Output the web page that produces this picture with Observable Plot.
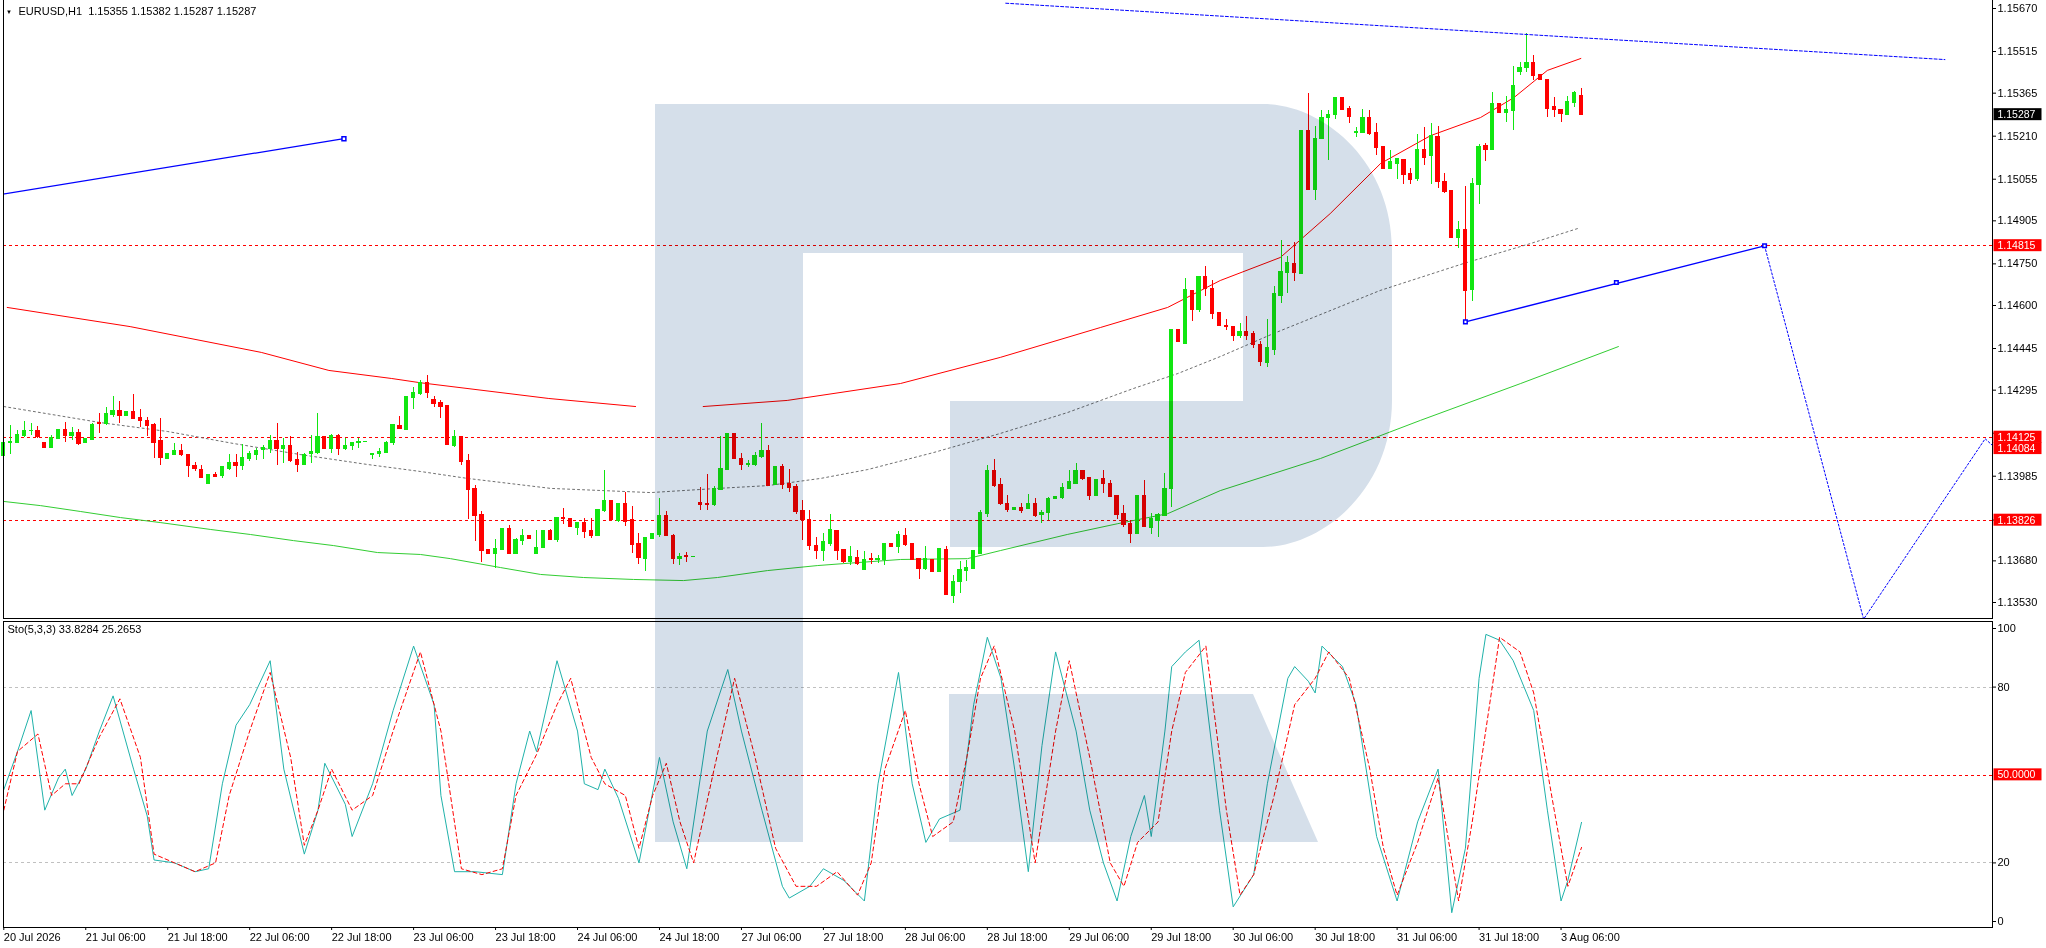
<!DOCTYPE html>
<html><head><meta charset="utf-8">
<script src="https://cdn.jsdelivr.net/npm/d3@7"></script>
<script src="https://cdn.jsdelivr.net/npm/@observablehq/plot@0.6"></script>
<style>
html,body{margin:0;padding:0;background:#fff;}
#wrap{position:relative;width:2046px;height:948px;overflow:hidden;background:#fff;}
#wrap > svg{position:absolute;left:0;}
</style></head><body><div id="wrap"></div>
<script>
// ---------- DATA ----------
const symbol = "EURUSD,H1";
const openP = [
1.14060,1.14108,1.14108,1.14132,1.14148,1.14150,1.14107,1.14090,1.14122,1.14152,
1.14130,1.14142,1.14108,1.14118,1.14178,1.14174,1.14208,1.14222,1.14202,1.14217,
1.14198,1.14186,1.14172,1.14112,1.14050,1.14065,1.14078,1.14064,1.14024,1.14010,
1.13957,1.13992,1.13986,1.14014,1.14035,1.14025,1.14050,1.14064,1.14080,1.14086,
1.14114,1.14086,1.14095,1.14044,1.14028,1.14066,1.14072,1.14128,1.14086,1.14131,
1.14086,1.14094,1.14107,1.14110,1.14065,1.14066,1.14072,1.14108,1.14168,1.14154,
1.14270,1.14282,1.14322,1.14262,1.14252,1.14240,1.14096,1.14128,1.14042,1.13942,
1.13848,1.13722,1.13707,1.13722,1.13797,1.13707,1.13754,1.13772,1.13707,1.13729,
1.13790,1.13758,1.13838,1.13833,1.13801,1.13819,1.13790,1.13772,1.13862,1.13898,
1.13826,1.13887,1.13830,1.13743,1.13689,1.13762,1.13776,1.13844,1.13772,1.13690,
1.13698,1.13695,1.13891,1.13886,1.13884,1.13938,1.14010,1.14139,1.14049,1.14028,
1.14028,1.14056,1.14078,1.13956,1.14020,1.13960,1.13948,1.13862,1.13830,1.13736,
1.13718,1.13744,1.13790,1.13722,1.13678,1.13693,1.13650,1.13689,1.13686,1.13686,
1.13742,1.13730,1.13771,1.13744,1.13688,1.13654,1.13686,1.13642,1.13722,1.13556,
1.13604,1.13646,1.13654,1.13708,1.13852,1.14004,1.13956,1.13888,1.13864,1.13873,
1.13870,1.13887,1.13846,1.13856,1.13903,1.13910,1.13942,1.13960,1.14006,1.13980,
1.13916,1.13977,1.13960,1.13916,1.13850,1.13816,1.13780,1.13916,1.13802,1.13824,
1.13844,1.13940,1.14514,1.14464,1.14654,1.14586,1.14704,1.14660,1.14575,1.14529,
1.14525,1.14492,1.14507,1.14499,1.14460,1.14395,1.14440,1.14637,1.14719,1.14752,
1.14717,1.15231,1.15019,1.15203,1.15279,1.15289,1.15349,1.15308,1.15223,1.15225,
1.15277,1.15223,1.15173,1.15095,1.15113,1.15127,1.15077,1.15059,1.15163,1.15139,
1.15209,1.15046,1.15015,1.14845,1.14875,1.14657,1.15037,1.15177,1.15163,1.15327,
1.15297,1.15303,1.15443,1.15459,1.15475,1.15433,1.15415,1.15317,1.15305,1.15287,
1.15333,1.15355];
const highP = [
1.14112,1.14168,1.14150,1.14182,1.14174,1.14164,1.14107,1.14130,1.14154,1.14178,
1.14160,1.14154,1.14120,1.14176,1.14210,1.14232,1.14272,1.14254,1.14217,1.14280,
1.14224,1.14198,1.14176,1.14192,1.14066,1.14104,1.14100,1.14064,1.14034,1.14023,
1.13992,1.13998,1.14020,1.14064,1.14064,1.14100,1.14074,1.14084,1.14096,1.14131,
1.14176,1.14120,1.14128,1.14071,1.14068,1.14131,1.14212,1.14128,1.14136,1.14136,
1.14122,1.14107,1.14120,1.14111,1.14067,1.14086,1.14110,1.14172,1.14200,1.14272,
1.14306,1.14330,1.14348,1.14272,1.14258,1.14240,1.14150,1.14128,1.14064,1.13952,
1.13858,1.13722,1.13756,1.13797,1.13807,1.13762,1.13794,1.13772,1.13790,1.13790,
1.13794,1.13837,1.13869,1.13833,1.13819,1.13833,1.13833,1.13866,1.14006,1.13898,
1.13887,1.13926,1.13876,1.13779,1.13765,1.13779,1.13905,1.13858,1.13776,1.13706,
1.13711,1.13696,1.13945,1.13992,1.13948,1.14128,1.14139,1.14139,1.14067,1.14042,
1.14071,1.14175,1.14096,1.14020,1.14028,1.14010,1.13956,1.13898,1.13862,1.13765,
1.13778,1.13848,1.13790,1.13722,1.13730,1.13716,1.13714,1.13708,1.13700,1.13742,
1.13742,1.13784,1.13798,1.13744,1.13688,1.13730,1.13686,1.13726,1.13730,1.13626,
1.13676,1.13682,1.13718,1.13862,1.14022,1.14046,1.13978,1.13914,1.13873,1.13888,
1.13920,1.13903,1.13862,1.13910,1.13912,1.13958,1.14004,1.14032,1.14006,1.13982,
1.13974,1.14004,1.13968,1.13916,1.13880,1.13826,1.13916,1.13968,1.13850,1.13852,
1.13996,1.14514,1.14514,1.14697,1.14654,1.14704,1.14740,1.14690,1.14576,1.14549,
1.14525,1.14535,1.14561,1.14505,1.14470,1.14551,1.14669,1.14835,1.14775,1.14828,
1.15231,1.15365,1.15245,1.15301,1.15301,1.15349,1.15349,1.15317,1.15243,1.15305,
1.15301,1.15255,1.15173,1.15159,1.15129,1.15127,1.15093,1.15217,1.15241,1.15255,
1.15245,1.15075,1.15015,1.14903,1.15029,1.15057,1.15181,1.15185,1.15369,1.15327,
1.15353,1.15461,1.15475,1.15581,1.15499,1.15433,1.15415,1.15349,1.15307,1.15353,
1.15371,1.15382];
const lowP = [
1.14056,1.14064,1.14107,1.14126,1.14132,1.14120,1.14088,1.14089,1.14119,1.14108,
1.14115,1.14097,1.14108,1.14114,1.14138,1.14166,1.14198,1.14176,1.14202,1.14194,
1.14160,1.14128,1.14047,1.14022,1.14050,1.14065,1.14056,1.13982,1.14001,1.13982,
1.13957,1.13982,1.13975,1.14004,1.13982,1.14004,1.14038,1.14042,1.14046,1.14066,
1.14024,1.14032,1.14035,1.14000,1.14022,1.14032,1.14064,1.14086,1.14068,1.14058,
1.14076,1.14076,1.14086,1.14110,1.14046,1.14054,1.14072,1.14096,1.14152,1.14154,
1.14224,1.14276,1.14265,1.14234,1.14192,1.14100,1.14090,1.14024,1.13830,1.13750,
1.13674,1.13707,1.13654,1.13718,1.13707,1.13707,1.13734,1.13762,1.13707,1.13729,
1.13752,1.13747,1.13812,1.13804,1.13772,1.13762,1.13762,1.13768,1.13855,1.13830,
1.13819,1.13804,1.13707,1.13668,1.13642,1.13762,1.13765,1.13772,1.13668,1.13664,
1.13675,1.13695,1.13862,1.13862,1.13876,1.13934,1.14006,1.14049,1.14006,1.14018,
1.14020,1.14049,1.13952,1.13956,1.13938,1.13927,1.13848,1.13754,1.13718,1.13686,
1.13678,1.13730,1.13682,1.13670,1.13664,1.13664,1.13650,1.13666,1.13670,1.13664,
1.13730,1.13708,1.13732,1.13684,1.13614,1.13646,1.13642,1.13642,1.13554,1.13526,
1.13562,1.13604,1.13654,1.13706,1.13836,1.13946,1.13880,1.13856,1.13864,1.13850,
1.13870,1.13836,1.13814,1.13824,1.13903,1.13900,1.13938,1.13960,1.13970,1.13896,
1.13916,1.13922,1.13910,1.13828,1.13802,1.13742,1.13780,1.13802,1.13774,1.13764,
1.13840,1.13874,1.14472,1.14464,1.14544,1.14576,1.14632,1.14550,1.14526,1.14509,
1.14470,1.14481,1.14475,1.14445,1.14380,1.14375,1.14420,1.14609,1.14645,1.14685,
1.14717,1.15015,1.14979,1.15203,1.15123,1.15269,1.15305,1.15257,1.15207,1.15225,
1.15213,1.15141,1.15095,1.15095,1.15055,1.15037,1.15037,1.15047,1.15105,1.15037,
1.15023,1.15003,1.14841,1.14807,1.14541,1.14615,1.14965,1.15117,1.15163,1.15297,
1.15261,1.15231,1.15427,1.15441,1.15411,1.15415,1.15277,1.15277,1.15261,1.15283,
1.15313,1.15287];
const closeP = [
1.14108,1.14110,1.14134,1.14150,1.14150,1.14128,1.14088,1.14126,1.14152,1.14130,
1.14143,1.14104,1.14120,1.14172,1.14174,1.14210,1.14222,1.14202,1.14217,1.14194,
1.14186,1.14166,1.14108,1.14054,1.14066,1.14078,1.14065,1.14024,1.14011,1.13982,
1.13992,1.13984,1.14020,1.14035,1.14025,1.14052,1.14066,1.14078,1.14090,1.14114,
1.14086,1.14096,1.14042,1.14028,1.14064,1.14074,1.14128,1.14086,1.14132,1.14086,
1.14096,1.14107,1.14110,1.14111,1.14067,1.14074,1.14107,1.14172,1.14156,1.14272,
1.14287,1.14324,1.14287,1.14248,1.14236,1.14100,1.14128,1.14038,1.13938,1.13844,
1.13718,1.13707,1.13725,1.13797,1.13707,1.13758,1.13772,1.13762,1.13729,1.13790,
1.13758,1.13837,1.13834,1.13804,1.13819,1.13786,1.13772,1.13866,1.13898,1.13830,
1.13887,1.13822,1.13740,1.13693,1.13765,1.13779,1.13844,1.13772,1.13689,1.13696,
1.13695,1.13696,1.13884,1.13884,1.13941,1.14013,1.14139,1.14049,1.14028,1.14032,
1.14060,1.14078,1.13952,1.14020,1.13956,1.13945,1.13858,1.13830,1.13736,1.13718,
1.13750,1.13794,1.13718,1.13678,1.13696,1.13670,1.13686,1.13686,1.13689,1.13742,
1.13730,1.13774,1.13740,1.13684,1.13654,1.13688,1.13642,1.13724,1.13560,1.13604,
1.13650,1.13656,1.13718,1.13856,1.14004,1.13952,1.13888,1.13864,1.13873,1.13860,
1.13887,1.13844,1.13856,1.13906,1.13912,1.13946,1.13966,1.14006,1.13978,1.13916,
1.13974,1.13960,1.13912,1.13848,1.13812,1.13777,1.13916,1.13804,1.13831,1.13848,
1.13942,1.14514,1.14472,1.14658,1.14586,1.14704,1.14660,1.14572,1.14527,1.14523,
1.14492,1.14507,1.14492,1.14460,1.14400,1.14450,1.14643,1.14723,1.14756,1.14719,
1.15231,1.15017,1.15203,1.15278,1.15289,1.15349,1.15305,1.15281,1.15226,1.15277,
1.15221,1.15171,1.15095,1.15117,1.15129,1.15073,1.15055,1.15163,1.15135,1.15213,
1.15045,1.15011,1.14845,1.14875,1.14655,1.15039,1.15173,1.15163,1.15327,1.15297,
1.15307,1.15393,1.15457,1.15475,1.15427,1.15415,1.15311,1.15305,1.15291,1.15335,
1.15369,1.15287];

// moving averages: [bar index, price]
const maRedA = [[0.5,1.14593],[18.5,1.14524],[37.7,1.14431],[47.6,1.14366],[56.8,1.14337],[60.9,1.14322],[79.8,1.14265],[92.5,1.14236]];
const maRedB = [[102.4,1.14236],[114.7,1.14258],[116.6,1.14265],[131.3,1.14319],[145.9,1.14413],[160.6,1.14521],[170.4,1.14593],[178.1,1.14690],[186.9,1.14773],[194.2,1.14931],[201.6,1.15112],[208.9,1.15212],[216.2,1.15277],[221.1,1.15349],[226,1.15447],[230.9,1.15490]];
const maGray = [[0,1.14236],[5.4,1.14214],[14.2,1.14178],[24,1.14146],[33.6,1.14103],[43.4,1.14063],[53.3,1.14027],[61,1.14002],[67.9,1.13977],[80.1,1.13941],[94.7,1.13926],[104.5,1.13941],[111.8,1.13951],[119.6,1.13977],[126.5,1.14009],[136.1,1.14070],[145.9,1.14139],[155.7,1.14214],[165.4,1.14301],[171.9,1.14355],[178.1,1.14416],[185.9,1.14499],[201.5,1.14654],[213.7,1.14751],[223.5,1.14823],[230.4,1.14877]];
const maGreen = [[0,1.13894],[5.4,1.13879],[11.2,1.13858],[17.1,1.13836],[22.9,1.13818],[30.3,1.13793],[36.1,1.13775],[42.4,1.13753],[48.3,1.13735],[54.7,1.13710],[61,1.13703],[65.4,1.13688],[72.7,1.13656],[78.6,1.13631],[84.9,1.13620],[92.2,1.13613],[99.5,1.13609],[104.5,1.13620],[111.8,1.13645],[119.1,1.13663],[122.9,1.13670],[131.3,1.13685],[141.1,1.13688],[145.9,1.13717],[155.7,1.13775],[163.1,1.13814],[170.4,1.13850],[178.1,1.13933],[192.8,1.14049],[207.4,1.14186],[222.1,1.14319],[236.4,1.14452]];

// drawn trend / forecast lines: [bar index, price]
const blueLeft = [[-0.5,1.15000],[49.8,1.15201]];
const blueTop = [[146.7,1.15689],[284.2,1.15486]];
const blueRise = [[214,1.14541],[257.8,1.14815]];
const blueRiseMarks = [[214,1.14541],[236.1,1.14683],[257.8,1.14815]];
const blueForecast = [[257.8,1.14815],[272.3,1.13470],[290.1,1.14120],[291.2,1.14095]];

// horizontal levels and labels
const levels = [1.14815, 1.14125, 1.13826];
const levelLabels = [1.14815, 1.14125, 1.14084, 1.13826];
const priceTicks = [1.15670,1.15515,1.15365,1.15210,1.15055,1.14905,1.14750,1.14600,1.14445,1.14295,1.14140,1.13985,1.13827,1.13680,1.13530];
const hiddenTickLabels = [1.14140, 1.13827]; // covered by the level boxes in the reference

// stochastic (5,3,3): [bar index, value]
const stochK = [[0,45],[2,58],[4,72],[6,38],[8,49],[9,52],[10,43],[12,52],[14,65],[16,77],[19,52],[21,36],[22,21],[25,20],[28,17],[30,18],[32,47],[34,67],[36,74],[39,89],[41,52],[44,23],[46,38],[47,54],[50,40],[51,29],[54,47],[57,72],[60,94],[63,74],[64,43],[66,17],[69,17],[73,16],[75,47],[77,65],[78,58],[81,89],[84,65],[85,47],[87,45],[88,52],[90,42],[93,20],[96,56],[98,34],[100,18],[103,65],[106,86],[108,65],[111,38],[114,12],[115,8],[118,12],[120,18],[123,14],[126,7],[128,47],[131,85],[133,47],[135,27],[137,35],[140,38],[142,74],[144,97],[146,83],[148,52],[150,17],[152,60],[154,92],[157,65],[159,38],[161,20],[163,7],[165,29],[167,43],[168,29],[170,65],[171,87],[173,92],[175,96],[178,38],[180,5],[183,16],[185,47],[188,83],[189,87],[191,82],[192,78],[193,94],[196,87],[198,74],[201,29],[204,7],[207,34],[210,52],[212,3],[214,25],[216,83],[217,98],[219,96],[221,89],[224,72],[226,38],[228,7],[229,14],[231,33.8284]];
const stochD = [[0,38],[2,58],[5,64],[7,43],[9,47],[11,47],[14,63],[17,76],[20,56],[22,23],[25,20],[28,17],[31,20],[33,43],[36,65],[39,85],[42,56],[44,26],[46,38],[48,52],[51,38],[54,43],[57,65],[61,92],[64,65],[67,18],[70,16],[73,18],[75,43],[78,57],[81,74],[83,83],[86,56],[88,47],[91,43],[93,25],[95,43],[97,54],[99,34],[101,20],[104,52],[107,83],[110,56],[113,25],[116,12],[119,12],[122,17],[125,9],[127,20],[129,52],[132,72],[134,47],[136,29],[139,34],[141,56],[143,83],[145,94],[148,65],[151,20],[154,65],[156,89],[159,56],[162,20],[164,12],[166,27],[169,34],[171,65],[173,85],[176,94],[179,38],[181,9],[183,16],[186,43],[189,74],[192,83],[194,92],[197,83],[200,52],[202,25],[204,9],[207,27],[210,49],[213,7],[215,34],[219,97],[222,92],[224,78],[227,38],[229,12],[231,25.2653]];
const stochLevelsGray = [80, 20];
const stochLevelRed = [50];
const stochTicks = [0, 20, 80, 100];

// time axis
const timeTickIdx = [0,12,24,36,48,60,72,84,96,108,120,132,144,156,168,180,192,204,216,228];
const timeTickLabels = ["20 Jul 2026","21 Jul 06:00","21 Jul 18:00","22 Jul 06:00","22 Jul 18:00","23 Jul 06:00","23 Jul 18:00","24 Jul 06:00","24 Jul 18:00","27 Jul 06:00","27 Jul 18:00","28 Jul 06:00","28 Jul 18:00","29 Jul 06:00","29 Jul 18:00","30 Jul 06:00","30 Jul 18:00","31 Jul 06:00","31 Jul 18:00","3 Aug 06:00"];

// ---------- BUILD ----------
const FONT = "'Liberation Sans', Arial, sans-serif";
const UP = "#11e611", DOWN = "#ff0000", BLUE = "#0000ff";
const n = openP.length;
const candles = d3.range(n).map(i => ({i, o: openP[i], h: highP[i], l: lowP[i], c: closeP[i]}));
const bull = candles.filter(d => d.c >= d.o), bear = candles.filter(d => d.c < d.o);
const HW = 0.31;
const px = d => d[0], py = d => d[1];

function candleMarks(arr, col) {
  return [
    Plot.ruleX(arr, {x: "i", y1: "l", y2: "h", stroke: col, strokeWidth: 1, shapeRendering: "crispEdges"}),
    Plot.rect(arr, {x1: d => d.i - HW, x2: d => d.i + HW, y1: "o", y2: "c", fill: col, shapeRendering: "crispEdges"}),
    Plot.ruleY(arr, {x1: d => d.i - HW, x2: d => d.i + HW, y: "o", stroke: col, shapeRendering: "crispEdges"}),
    Plot.ruleY(arr, {x1: d => d.i - HW, x2: d => d.i + HW, y: "c", stroke: col, shapeRendering: "crispEdges"})
  ];
}

const last = candles[n - 1];
const header = `${symbol}\u00a0\u00a0${last.o.toFixed(5)} ${last.h.toFixed(5)} ${last.l.toFixed(5)} ${last.c.toFixed(5)}`;

const xScale = {domain: [0, n - 1], range: [3.3, 3.3 + (n - 1) * 6.83]};

// label-box marks: white text, box drawn behind after render
const RED_BOX = "#fffffe", BLACK_BOX = "#fefefe";

const price = Plot.plot({
  width: 2046, height: 620,
  marginLeft: 3, marginRight: 54, marginTop: 0, marginBottom: 2,
  x: {...xScale, axis: null},
  y: {domain: [1.13530, 1.15670], range: [602, 8], axis: null},
  style: {background: "transparent", fontFamily: FONT, fontSize: "11px", color: "black", overflow: "visible"},
  marks: [
    Plot.ruleY(levels, {y: d => d, stroke: "#ff0000", strokeDasharray: "3,3", shapeRendering: "crispEdges"}),
    Plot.line(maGray, {x: px, y: py, stroke: "#707070", strokeDasharray: "2,3", strokeWidth: 1}),
    Plot.line(maGreen, {x: px, y: py, stroke: "#32cd32", strokeWidth: 1, clip: true}),
    Plot.line(maRedA, {x: px, y: py, stroke: "#ff0000", strokeWidth: 1}),
    Plot.line(maRedB, {x: px, y: py, stroke: "#ff0000", strokeWidth: 1}),
    ...candleMarks(bull, UP),
    ...candleMarks(bear, DOWN),
    Plot.line(blueLeft, {x: px, y: py, stroke: BLUE, strokeWidth: 1.2, clip: true}),
    Plot.dot(blueLeft.slice(1), {x: px, y: py, symbol: "square", r: 2.2, stroke: BLUE, fill: "white"}),
    Plot.line(blueTop, {x: px, y: py, stroke: BLUE, strokeDasharray: "3,2", strokeWidth: 1, clip: true}),
    Plot.line(blueRise, {x: px, y: py, stroke: BLUE, strokeWidth: 1.3}),
    Plot.line(blueForecast, {x: px, y: py, stroke: BLUE, strokeDasharray: "2,2", strokeWidth: 1, clip: true}),
    Plot.dot(blueRiseMarks, {x: px, y: py, symbol: "square", r: 2, stroke: BLUE, fill: "white"}),
    Plot.frame({anchor: "left", stroke: "black", shapeRendering: "crispEdges"}),
    Plot.frame({anchor: "right", stroke: "black", shapeRendering: "crispEdges"}),
    Plot.frame({anchor: "bottom", stroke: "black", shapeRendering: "crispEdges"}),
    Plot.axisY({anchor: "right", ticks: priceTicks, tickFormat: d => hiddenTickLabels.includes(d) ? "" : d.toFixed(5), tickSize: 3, tickPadding: 2, fontSize: 11, label: null}),
    Plot.text(levelLabels, {y: d => d, text: d => d.toFixed(5), frameAnchor: "right", dx: 5, textAnchor: "start", fill: RED_BOX, fontSize: 10.5}),
    Plot.text([last.c], {y: d => d, text: d => d.toFixed(5), frameAnchor: "right", dx: 5, textAnchor: "start", fill: BLACK_BOX, fontSize: 10.5}),
    Plot.text(["\u25BC"], {frameAnchor: "top-left", dx: 2.5, dy: 9, lineAnchor: "top", textAnchor: "start", fontSize: 6, fill: "black"}),
    Plot.text([header], {frameAnchor: "top-left", dx: 15, dy: 6.5, lineAnchor: "top", textAnchor: "start", fontSize: 11, fill: "black"})
  ]
});

const kLast = stochK[stochK.length - 1][1], dLast = stochD[stochD.length - 1][1];
const stoTitle = `Sto(5,3,3) ${kLast.toFixed(4)} ${dLast.toFixed(4)}`;

const stoch = Plot.plot({
  width: 2046, height: 328,
  marginLeft: 3, marginRight: 54, marginTop: 1, marginBottom: 21,
  x: {...xScale, axis: null},
  y: {domain: [0, 100], range: [301, 8], axis: null},
  style: {background: "transparent", fontFamily: FONT, fontSize: "11px", color: "black", overflow: "visible"},
  marks: [
    Plot.ruleY(stochLevelsGray, {y: d => d, stroke: "#c0c0c0", strokeDasharray: "3,3", shapeRendering: "crispEdges"}),
    Plot.ruleY(stochLevelRed, {y: d => d, stroke: "#ff0000", strokeDasharray: "3,3", shapeRendering: "crispEdges"}),
    Plot.line(stochK, {x: px, y: py, stroke: "#20b2aa", strokeWidth: 1}),
    Plot.line(stochD, {x: px, y: py, stroke: "#ff0000", strokeWidth: 1, strokeDasharray: "4,3"}),
    Plot.frame({anchor: "left", stroke: "black", shapeRendering: "crispEdges"}),
    Plot.frame({anchor: "right", stroke: "black", shapeRendering: "crispEdges"}),
    Plot.frame({anchor: "top", stroke: "black", shapeRendering: "crispEdges"}),
    Plot.frame({anchor: "bottom", stroke: "black", shapeRendering: "crispEdges"}),
    Plot.axisY({anchor: "right", ticks: stochTicks, tickFormat: d => String(d), tickSize: 3, tickPadding: 2, fontSize: 11, label: null}),
    Plot.axisX({anchor: "bottom", ticks: timeTickIdx, tickFormat: d => timeTickLabels[timeTickIdx.indexOf(d)], textAnchor: "start", tickSize: 3, tickPadding: 3, fontSize: 11, label: null}),
    Plot.text(stochLevelRed, {y: d => d, text: d => d.toFixed(4), frameAnchor: "right", dx: 5, textAnchor: "start", fill: RED_BOX, fontSize: 10.5}),
    Plot.text([stoTitle], {frameAnchor: "top-left", dx: 4, dy: 3.5, lineAnchor: "top", textAnchor: "start", fontSize: 11, fill: "black"})
  ]
});

const wrap = document.getElementById("wrap");
price.style.top = "0px";
stoch.style.top = "620px";
wrap.appendChild(price);
wrap.appendChild(stoch);

// draw coloured boxes behind the label texts
function boxes(svg) {
  svg.querySelectorAll("text").forEach(t => {
    const f = (t.getAttribute("fill") || (t.parentNode && t.parentNode.getAttribute("fill")) || "").toLowerCase();
    let color = null;
    if (f === RED_BOX) color = "#ff0000";
    else if (f === BLACK_BOX) color = "#000000";
    if (!color) return;
    const b = t.getBBox();
    const r = document.createElementNS("http://www.w3.org/2000/svg", "rect");
    r.setAttribute("x", b.x - 4);
    r.setAttribute("y", b.y);
    r.setAttribute("width", 48);
    r.setAttribute("height", Math.max(b.height, 12));
    r.setAttribute("fill", color);
    if (t.getAttribute("transform")) r.setAttribute("transform", t.getAttribute("transform"));
    t.parentNode.insertBefore(r, t);
  });
}
boxes(price);
boxes(stoch);

// watermark logo (decoration), blended over the chart
const ns = "http://www.w3.org/2000/svg";
const wm = document.createElementNS(ns, "svg");
wm.setAttribute("width", 2046); wm.setAttribute("height", 948);
wm.style.top = "0px";
wm.style.mixBlendMode = "multiply";
wm.style.pointerEvents = "none";
const p1 = document.createElementNS(ns, "path");
p1.setAttribute("d", "M655,104 H1263 C1322,104 1392,160 1392,250 V400 C1392,490 1322,547 1263,547 H950 V401 H1243 V253 H803 V842 H655 Z");
p1.setAttribute("fill", "#d5dfea");
const p2 = document.createElementNS(ns, "path");
p2.setAttribute("d", "M949,694 H1253 L1318,842 H949 Z");
p2.setAttribute("fill", "#d5dfea");
wm.appendChild(p1); wm.appendChild(p2);
wrap.appendChild(wm);
</script></body></html>
